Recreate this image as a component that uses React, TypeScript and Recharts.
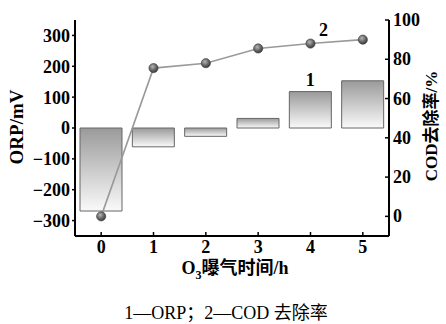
import { ComposedChart, Bar, Line, XAxis, YAxis, LabelList } from "recharts";

const hours = ["0", "1", "2", "3", "4", "5"];
const orp = [-269, -61, -27, 31, 118, 153];
const codRemoval = [0, 75.5, 78, 85.5, 88, 90];
const orpTicks = [-300, -200, -100, 0, 100, 200, 300];
const codTicks = [0, 20, 40, 60, 80, 100];

const data = hours.map((h, i) => ({ h, orp: orp[i], cod: codRemoval[i] }));

const FONT = "'Liberation Serif', 'Noto Sans CJK SC', serif";
const fmt = (v: number) => String(v).replace("-", "\u2212");

function BottomTick(props: any) {
  const { x, y, payload } = props;
  return (
    <g>
      <line x1={x} x2={x} y1={y} y2={y - 4} stroke="#000" strokeWidth={1.5} />
      <text x={x} y={y + 17} textAnchor="middle" fontFamily={FONT} fontWeight="bold" fontSize={18} fill="#000">
        {payload.value}
      </text>
    </g>
  );
}

function RightTick(props: any) {
  const { x, y, payload } = props;
  return (
    <g>
      <line x1={x} x2={x - 4} y1={y} y2={y} stroke="#000" strokeWidth={1.5} />
      <text x={x + 4} y={y + 6} textAnchor="start" fontFamily={FONT} fontWeight="bold" fontSize={18} fill="#000">
        {payload.value}
      </text>
    </g>
  );
}

function Ball(props: any) {
  const { cx, cy } = props;
  return <circle cx={cx} cy={cy} r={4.6} fill="url(#ball)" stroke="#3a3a3a" strokeWidth={0.6} />;
}

export default function App() {
  return (
    <div style={{ position: "absolute", left: 0, top: 0, width: 446, height: 324, background: "#fff", fontFamily: FONT }}>
      <ComposedChart width={446} height={324} data={data} margin={{ top: 20, right: 0, bottom: 58, left: 0 }} barSize={42}>
        <defs>
          <linearGradient id="barFill" x1="0" y1="0" x2="0" y2="1">
            <stop offset="0%" stopColor="#9a9a9a" />
            <stop offset="100%" stopColor="#fafafa" />
          </linearGradient>
          <radialGradient id="ball" cx="40%" cy="35%" r="65%">
            <stop offset="0%" stopColor="#b5b5b5" />
            <stop offset="60%" stopColor="#666" />
            <stop offset="100%" stopColor="#3c3c3c" />
          </radialGradient>
        </defs>
        <XAxis dataKey="h" xAxisId="b" height={30} tickSize={0} tickMargin={0} tick={<BottomTick />}
          axisLine={{ stroke: "#000", strokeWidth: 2 }} tickLine={false} interval={0} />
        <XAxis dataKey="h" xAxisId="t" orientation="top" height={0} tick={false} tickLine={false}
          axisLine={{ stroke: "#000", strokeWidth: 2 }} />
        <YAxis yAxisId="l" width={75} domain={[-350, 350]} ticks={orpTicks} tickFormatter={fmt}
          tickSize={3} tickMargin={2} axisLine={{ stroke: "#000", strokeWidth: 2 }}
          tickLine={{ stroke: "#000", strokeWidth: 1.5 }}
          tick={{ fill: "#000", fontFamily: FONT, fontWeight: "bold", fontSize: 18 }} />
        <YAxis yAxisId="r" orientation="right" width={57} domain={[-10, 100]} ticks={codTicks}
          tickSize={0} tickMargin={0} tick={<RightTick />} tickLine={false}
          axisLine={{ stroke: "#000", strokeWidth: 2 }} />
        <Bar dataKey="orp" xAxisId="b" yAxisId="l" fill="url(#barFill)" stroke="#666" strokeWidth={1} isAnimationActive={false}>
          <LabelList dataKey="orp" content={(p: any) =>
            p.index === 4 ? (
              <text x={p.x + p.width / 2} y={p.y - 6} textAnchor="middle" fontFamily={FONT} fontWeight="bold" fontSize={18} fill="#000">1</text>
            ) : null} />
        </Bar>
        <Line dataKey="cod" xAxisId="b" yAxisId="r" stroke="#9a9a9a" strokeWidth={1.6} dot={<Ball />}
          activeDot={false} isAnimationActive={false}>
          <LabelList dataKey="cod" content={(p: any) =>
            p.index === 4 ? (
              <text x={p.x + 13} y={p.y - 8} textAnchor="middle" fontFamily={FONT} fontWeight="bold" fontSize={18} fill="#000">2</text>
            ) : null} />
        </Line>
      </ComposedChart>
      <div style={{ position: "absolute", left: 17, top: 127, transform: "translate(-50%,-50%) rotate(-90deg)", whiteSpace: "nowrap", fontWeight: "bold", fontSize: 19, lineHeight: "22px" }}>
        ORP/mV
      </div>
      <div style={{ position: "absolute", left: 432, top: 126, transform: "translate(-50%,-50%) rotate(-90deg)", whiteSpace: "nowrap", fontWeight: "bold", fontSize: 17, lineHeight: "20px" }}>
        COD去除率/%
      </div>
      <div style={{ position: "absolute", left: 235, top: 268, transform: "translate(-50%,-50%)", whiteSpace: "nowrap", fontWeight: "bold", fontSize: 18, lineHeight: "22px" }}>
        O<sub style={{ fontSize: 12, lineHeight: 0 }}>3</sub>曝气时间/h
      </div>
      <div style={{ position: "absolute", left: 226, top: 313, transform: "translate(-50%,-50%)", whiteSpace: "nowrap", fontSize: 18, lineHeight: "20px" }}>
        1—ORP；2—COD 去除率
      </div>
    </div>
  );
}
